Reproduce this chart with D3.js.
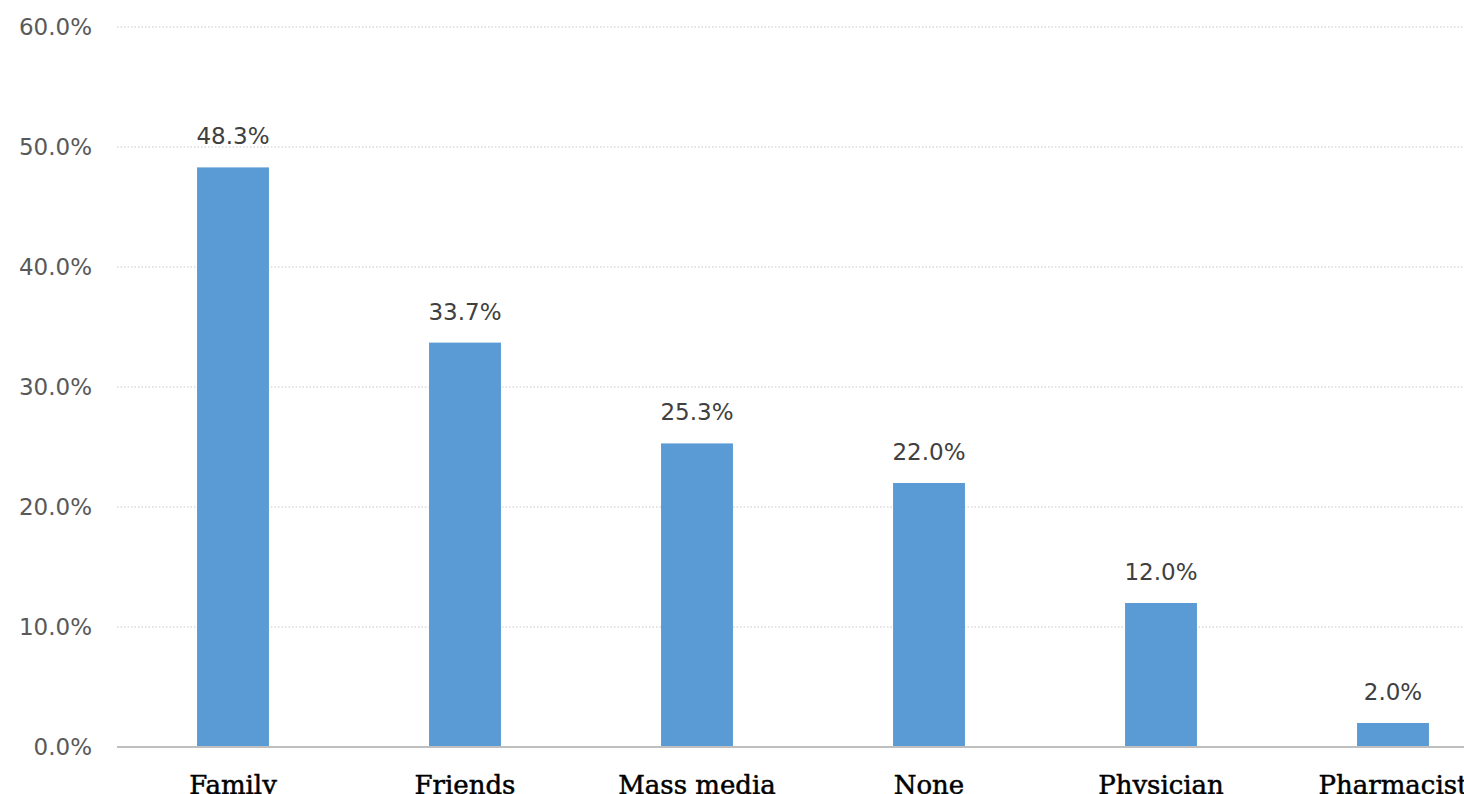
<!DOCTYPE html>
<html>
<head>
<meta charset="utf-8">
<script src="https://cdn.jsdelivr.net/npm/d3@7"></script>
<style>
  body { margin: 0; background: #fff; }
  svg { display: block; }
</style>
</head>
<body>
<svg id="chart" width="1464" height="794"></svg>
<script>
// sources of information (percent of respondents)
const categories = ['Family', 'Friends', 'Mass media', 'None', 'Physician', 'Pharmacist'];
const values = [48.3, 33.7, 25.3, 22.0, 12.0, 2.0];
const yTicks = [0, 10, 20, 30, 40, 50, 60];

const colors = {
    bar: '#5b9bd5',
    grid: '#d9d9d9',
    axis: '#bfbfbf',
    tickText: '#595959',
    valueText: '#404040'
};

const svg = d3.select('#chart');

// plot runs past the right edge, the source picture is cropped there
const x = d3.scaleBand()
    .domain(categories)
    .range([117, 1509])
    .paddingInner(0.69)
    .paddingOuter(0.345);

const y = d3.scaleLinear()
    .domain([0, 60])
    .range([747, 27]);

// dotted gridlines
svg.append('g')
    .selectAll('line')
    .data(yTicks.filter(d => d > 0))
    .join('line')
    .attr('x1', 117)
    .attr('x2', 1464)
    .attr('y1', d => y(d))
    .attr('y2', d => y(d))
    .attr('stroke', colors.grid)
    .attr('stroke-width', 1.5)
    .attr('stroke-dasharray', '1.5,2');

// y tick labels
svg.append('g')
    .selectAll('text')
    .data(yTicks)
    .join('text')
    .attr('x', 92)
    .attr('y', d => y(d))
    .attr('dy', '0.36em')
    .attr('text-anchor', 'end')
    .attr('font-family', 'DejaVu Sans')
    .attr('font-size', 23)
    .attr('fill', colors.tickText)
    .text(d => d.toFixed(1) + '%');

// bars
svg.append('g')
    .selectAll('rect')
    .data(values)
    .join('rect')
    .attr('x', (d, i) => x(categories[i]))
    .attr('y', d => y(d))
    .attr('width', x.bandwidth())
    .attr('height', d => y(0) - y(d))
    .attr('fill', colors.bar);

// baseline
svg.append('line')
    .attr('x1', 117)
    .attr('x2', 1464)
    .attr('y1', y(0))
    .attr('y2', y(0))
    .attr('stroke', colors.axis)
    .attr('stroke-width', 2);

// value labels
svg.append('g')
    .selectAll('text')
    .data(values)
    .join('text')
    .attr('x', (d, i) => x(categories[i]) + x.bandwidth() / 2)
    .attr('y', d => y(d) - 23)
    .attr('text-anchor', 'middle')
    .attr('font-family', 'DejaVu Sans')
    .attr('font-size', 23)
    .attr('fill', colors.valueText)
    .text(d => d.toFixed(1) + '%');

// category labels, cut off at the bottom like the source
svg.append('g')
    .selectAll('text')
    .data(categories)
    .join('text')
    .attr('x', d => x(d) + x.bandwidth() / 2)
    .attr('y', 794)
    .attr('text-anchor', 'middle')
    .attr('font-family', 'DejaVu Serif')
    .attr('font-size', 26)
    .attr('fill', '#000')
    .attr('stroke', '#000')
    .attr('stroke-width', 0.5)
    .text(d => d);
</script>
</body>
</html>
